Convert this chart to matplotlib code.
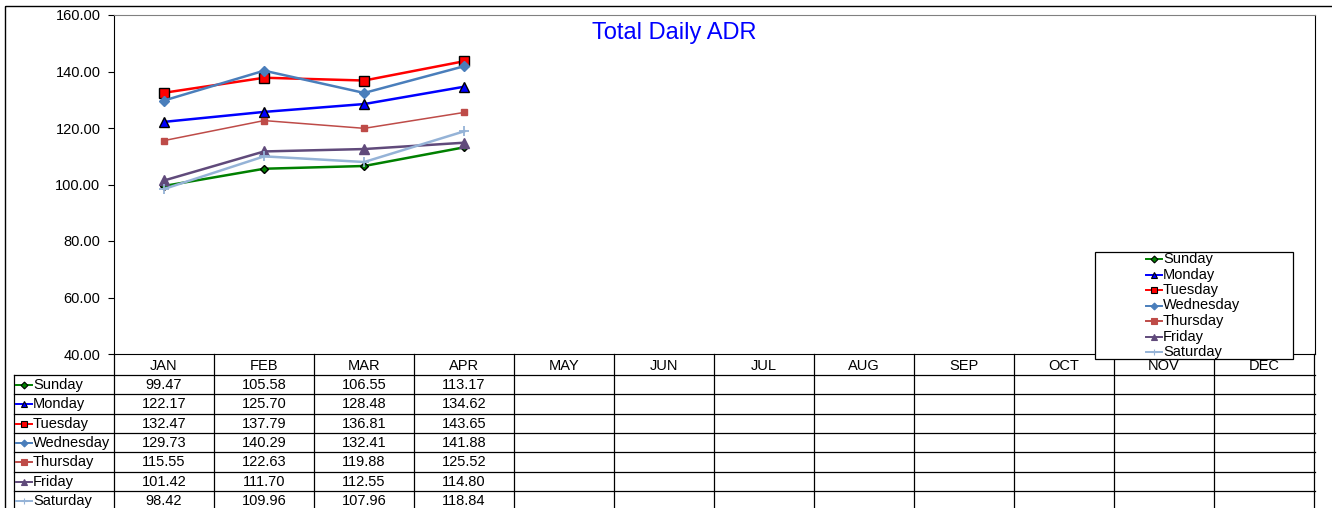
import matplotlib.pyplot as plt
from matplotlib.patches import Rectangle

plt.rcParams['font.family'] = ['Liberation Sans', 'DejaVu Sans']

months = ['JAN', 'FEB', 'MAR', 'APR', 'MAY', 'JUN', 'JUL', 'AUG', 'SEP', 'OCT', 'NOV', 'DEC']
days = ['Sunday', 'Monday', 'Tuesday', 'Wednesday', 'Thursday', 'Friday', 'Saturday']

sunday = [99.47, 105.58, 106.55, 113.17]
monday = [122.17, 125.70, 128.48, 134.62]
tuesday = [132.47, 137.79, 136.81, 143.65]
wednesday = [129.73, 140.29, 132.41, 141.88]
thursday = [115.55, 122.63, 119.88, 125.52]
friday = [101.42, 111.70, 112.55, 114.80]
saturday = [98.42, 109.96, 107.96, 118.84]
series = [sunday, monday, tuesday, wednesday, thursday, friday, saturday]

# style for each day: line colour, marker, marker face, marker edge, size, line width
styles = [
    ('#008000', 'D', '#008000', 'black', 4.5, 1.8),
    ('#0000FF', '^', '#0000FF', 'black', 6.5, 1.8),
    ('#FF0000', 's', '#FF0000', 'black', 6.5, 1.8),
    ('#4A7EBB', 'D', '#4A7EBB', '#4A7EBB', 5, 1.8),
    ('#BE4B48', 's', '#BE4B48', '#BE4B48', 5, 1.1),
    ('#604A7B', '^', '#604A7B', '#604A7B', 6.5, 1.8),
    ('#95B3D7', '+', '#95B3D7', '#95B3D7', 7, 1.8),
]

W, H = 1332, 508
fig = plt.figure(figsize=(W / 100, H / 100), dpi=100)

# plot area
ax = fig.add_axes([114 / W, (H - 354) / H, 1201 / W, 339 / H])
for vals, (c, m, fc, ec, ms, lw) in zip(series, styles):
    ax.plot(range(len(vals)), vals, color=c, lw=lw, marker=m, markerfacecolor=fc,
            markeredgecolor=ec, markersize=ms, markeredgewidth=1.0 if m != '+' else 1.3)
ax.set_xlim(-0.5, 11.5)
ax.set_ylim(40, 160)
ax.set_yticks(range(40, 161, 20))
ax.set_yticklabels(['%.2f' % v for v in range(40, 161, 20)])
ax.tick_params(axis='y', direction='out', length=4.3, pad=5.5, labelsize=10.5)
ax.set_xticks([])
ax.spines['top'].set_color('#808080')

# overlay in pixel coordinates for the data table and legend
ov = fig.add_axes([0, 0, 1, 1], facecolor='none')
ov.set_xlim(0, W)
ov.set_ylim(H, 0)
ov.axis('off')

ov.text(674, 33, 'Total Daily ADR', color='#0000FF', fontsize=17, ha='center', va='center')

# outer chart border
ov.add_patch(Rectangle((5, 6), W, H, fill=False, edgecolor='black', lw=1))

row_y = [354, 375, 394.3, 413.6, 432.9, 452.2, 471.5, 490.8, 510.1]
col_x = [114 + 100 * k for k in range(13)]

# header row
for k, mth in enumerate(months):
    ov.text(col_x[k] + 50, (row_y[0] + row_y[1]) / 2 + 1, mth, ha='center', va='center', fontsize=10.5)
for x in col_x:
    ov.plot([x, x], [354, H], color='black', lw=0.9)
ov.plot([14, 14], [375, H], color='black', lw=0.9)
for y in row_y[1:-1]:
    ov.plot([14, 1315], [y, y], color='black', lw=0.9)


def key(x, y, st, ms, z=3):
    c, m, fc, ec, _, lw = st
    ov.plot([x, x + 16], [y, y], color=c, lw=1.4, zorder=z)
    ov.plot([x + 8], [y], marker=m, color=c, markerfacecolor=fc, markeredgecolor=ec,
            markersize=ms, markeredgewidth=0.8, zorder=z + 1)


# table rows
for i, (d, vals, st) in enumerate(zip(days, series, styles)):
    yc = (row_y[i + 1] + row_y[i + 2]) / 2 + 0.5
    key(16, yc, st, 4 if st[1] != 'D' else 3.5)
    ov.text(33, yc, d, ha='left', va='center', fontsize=10.5)
    for k, v in enumerate(vals):
        ov.text(col_x[k] + 50, yc, '%.2f' % v, ha='center', va='center', fontsize=10.5)

# legend
ov.add_patch(Rectangle((1095, 252), 198, 107, facecolor='white', edgecolor='black', lw=0.9, zorder=5))
for i, (d, st) in enumerate(zip(days, styles)):
    yl = 259 + 15.5 * i
    key(1146, yl, st, 4 if st[1] != 'D' else 3.5, z=6)
    ov.text(1163, yl, d, ha='left', va='center', fontsize=10.5, zorder=8)

fig.savefig('out.png', dpi=100)
